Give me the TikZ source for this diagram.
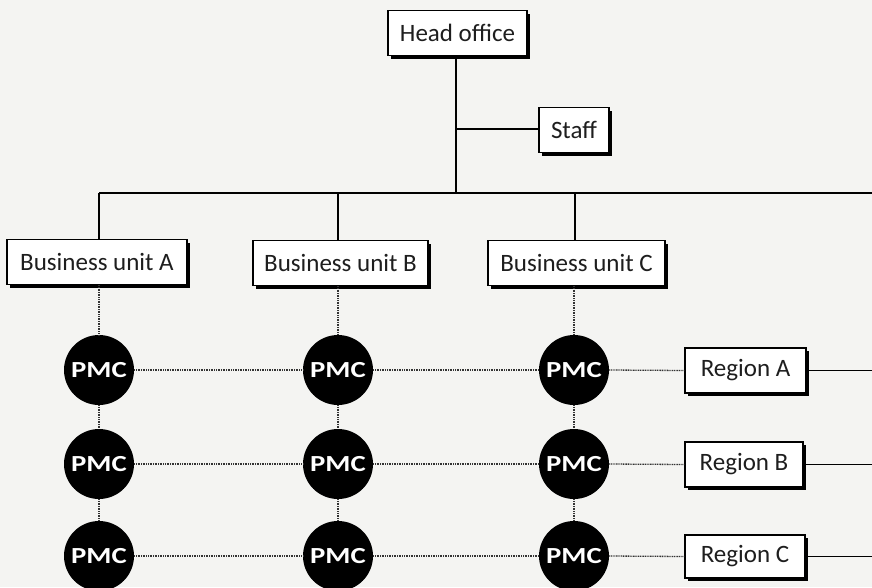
\documentclass[tikz,border=0pt]{standalone}
\usepackage{fontspec}
\setmainfont{Carlito}
\usetikzlibrary{shadows}
\definecolor{paper}{HTML}{F4F4F2}
\definecolor{ink}{HTML}{1E1E1E}
\begin{document}
\begin{tikzpicture}[x=1pt,y=-1pt,
  unitbox/.style={draw=black, line width=1.4pt, fill=white, inner sep=0pt,
    minimum height=45pt, text=ink, font=\fontsize{25}{29}\selectfont,
    drop shadow={shadow xshift=3pt, shadow yshift=-3pt, fill=black, opacity=1}},
  pmc/.style={circle, fill=black, minimum size=70pt, inner sep=0pt, text=white,
    font=\fontsize{23}{27}\selectfont\bfseries},
  link/.style={line width=1.4pt, draw=black},
  dotlink/.style={line width=1.3pt, draw=black!80, dash pattern=on 1pt off 0.7pt}]

% paper and page extent
\fill[paper] (0,0) rectangle (872,587);
\useasboundingbox (0,0) rectangle (872,587);

% head office and staff
\node[unitbox, minimum width=139pt] (ho) at (457.5,33) {Head office};
\node[unitbox, minimum width=70pt] (staff) at (574,130) {Staff};

% business units
\node[unitbox, minimum width=180pt] (bua) at (97,262) {Business unit A};
\node[unitbox, minimum width=175pt] (bub) at (340.5,263) {Business unit B};
\node[unitbox, minimum width=177pt] (buc) at (576.5,263) {Business unit C};

% regions
\node[unitbox, minimum width=121pt] (ra) at (745.5,370.5) {Region A};
\node[unitbox, minimum width=118pt] (rb) at (744,464.5) {Region B};
\node[unitbox, minimum width=120pt, minimum height=43pt] (rc) at (745,556.5) {Region C};

% product-market combinations
\foreach \c/\x in {1/99,2/338,3/574}{
  \foreach \r/\y in {1/370,2/464,3/556}{
    \node[pmc] (p\c\r) at (\x,\y) {\scalebox{1.25}[1]{PMC}};
  }
}

% junction points of the solid hierarchy lines
\coordinate (ja) at (99,193);
\coordinate (jb) at (338,193);
\coordinate (jc) at (575,193);
\coordinate (busend) at (872,193);
\coordinate (trunk) at (456,193);
\coordinate (trunktop) at (456,56);
\coordinate (js) at (456,129);
\coordinate (ea) at (872,370.5);
\coordinate (eb) at (872,464.5);
\coordinate (ec) at (872,556.5);

% solid hierarchy lines
\draw[link] (trunktop) -- (trunk);
\draw[link] (js) -- (js -| staff.west);
\draw[link] (ja) -- (busend);
\draw[link] (ja) -- (ja |- bua.north);
\draw[link] (jb) -- (jb |- bub.north);
\draw[link] (jc) -- (jc |- buc.north);
\draw[link] (ra.east) -- (ea);
\draw[link] (rb.east) -- (eb);
\draw[link] (rc.east) -- (ec);

% dotted matrix lines
\draw[dotlink] (p11 |- bua.south) -- (p11.north);
\draw[dotlink] (p21 |- bub.south) -- (p21.north);
\draw[dotlink] (p31 |- buc.south) -- (p31.north);
\foreach \c in {1,2,3}{
  \draw[dotlink] (p\c1.south) -- (p\c2.north);
  \draw[dotlink] (p\c2.south) -- (p\c3.north);
}
\foreach \r/\reg in {1/ra,2/rb,3/rc}{
  \draw[dotlink] (p1\r.east) -- (p2\r.west);
  \draw[dotlink] (p2\r.east) -- (p3\r.west);
  \draw[dotlink] (p3\r.east) -- (\reg.west);
}
\end{tikzpicture}
\end{document}
